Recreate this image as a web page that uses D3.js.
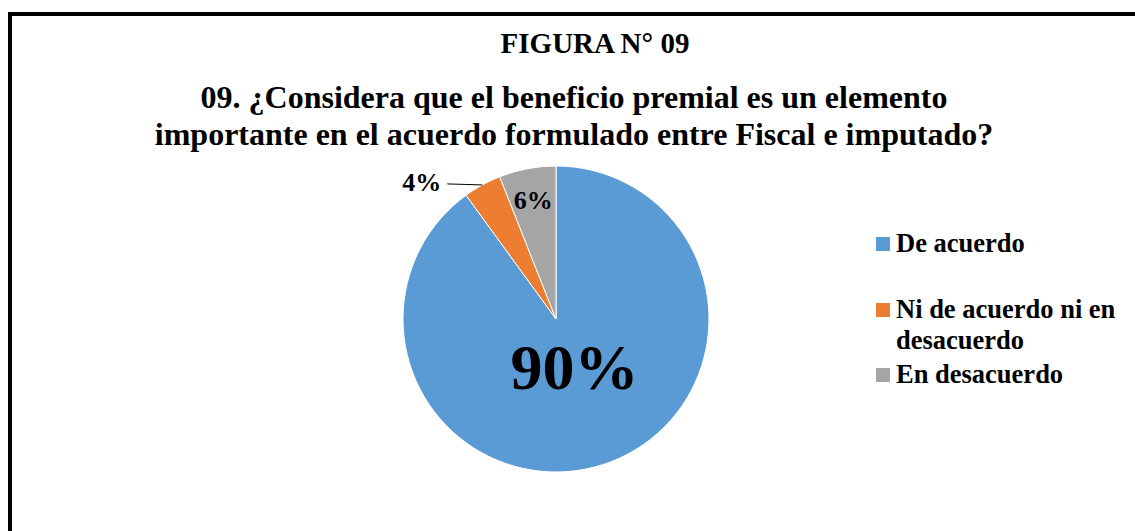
<!DOCTYPE html>
<html>
<head>
<meta charset="utf-8">
<script src="https://cdn.jsdelivr.net/npm/d3@7"></script>
<style>
    body { margin: 0; background: #fff; }
    svg text { font-family: "Liberation Serif", "Times New Roman", serif; font-weight: bold; fill: #000; }
</style>
</head>
<body>
<svg id="chart" width="1135" height="531"></svg>
<script>
var categories = ["De acuerdo", "Ni de acuerdo ni en desacuerdo", "En desacuerdo"];
var values = [90, 4, 6];
var labels = ["90%", "4%", "6%"];
var legendLines = [["De acuerdo"], ["Ni de acuerdo ni en", "desacuerdo"], ["En desacuerdo"]];
var titleLines = ["09. ¿Considera que el beneficio premial es un elemento",
                  "importante en el acuerdo formulado entre Fiscal e imputado?"];

var svg = d3.select("#chart");

// marco del gráfico (se corta a la derecha y abajo)
svg.append("rect")
    .attr("x", 10).attr("y", 14)
    .attr("width", 1200).attr("height", 600)
    .attr("fill", "none")
    .attr("stroke", "#000")
    .attr("stroke-width", 4);

svg.append("text")
    .attr("x", 595).attr("y", 53)
    .attr("text-anchor", "middle")
    .style("font-size", "29px")
    .text("FIGURA N° 09");

svg.selectAll(".title")
    .data(titleLines)
    .enter().append("text")
    .attr("class", "title")
    .attr("x", 574)
    .attr("y", function (d, i) { return 108 + i * 37; })
    .attr("text-anchor", "middle")
    .style("font-size", "32px")
    .text(function (d) { return d; });

var color = d3.scaleOrdinal()
    .domain(categories)
    .range(["#5B9BD5", "#ED7D31", "#A5A5A5"]);

var cx = 556, cy = 319, r = 153;

var pie = d3.pie().sort(null).value(function (d) { return d; });
var arcs = pie(values);
var arc = d3.arc().innerRadius(0).outerRadius(r);

var g = svg.append("g").attr("transform", "translate(" + cx + "," + cy + ")");

g.selectAll("path")
    .data(arcs)
    .enter().append("path")
    .attr("d", arc)
    .attr("fill", function (d, i) { return color(categories[i]); })
    .attr("stroke", "#fff")
    .attr("stroke-width", 1);

function mid(d) { return (d.startAngle + d.endAngle) / 2; }

// etiqueta grande dentro del sector azul
var a0 = arcs[0];
var p0 = d3.arc().innerRadius(r * 0.33).outerRadius(r * 0.33).centroid(a0);
g.append("text")
    .attr("x", p0[0] + 3).attr("y", p0[1] + 22)
    .attr("text-anchor", "middle")
    .style("font-size", "64px")
    .text(labels[0]);

// 4% fuera con línea guía
var a1 = arcs[1];
var m1 = mid(a1);
var e1 = [Math.sin(m1) * r, -Math.cos(m1) * r];
g.append("path")
    .attr("d", "M" + e1[0] + "," + e1[1] + "L" + (e1[0] - 35) + "," + (e1[1] - 1))
    .attr("stroke", "#000")
    .attr("stroke-width", 1)
    .attr("fill", "none");
g.append("text")
    .attr("x", e1[0] - 41).attr("y", e1[1] + 6)
    .attr("text-anchor", "end")
    .style("font-size", "26px")
    .text(labels[1]);

// 6% dentro del sector gris
var a2 = arcs[2];
var p2 = d3.arc().innerRadius(r * 0.79).outerRadius(r * 0.79).centroid(a2);
g.append("text")
    .attr("x", p2[0]).attr("y", p2[1] + 9)
    .attr("text-anchor", "middle")
    .style("font-size", "26px")
    .text(labels[2]);

// leyenda
var legendY = [252, 318, 383];
var leg = svg.selectAll(".legend")
    .data(categories)
    .enter().append("g")
    .attr("class", "legend")
    .attr("transform", function (d, i) { return "translate(876," + legendY[i] + ")"; });

leg.append("rect")
    .attr("x", 0).attr("y", -15)
    .attr("width", 14).attr("height", 14)
    .attr("fill", function (d) { return color(d); });

leg.each(function (d, i) {
    var t = d3.select(this).append("text")
        .attr("x", 20).attr("y", 0)
        .style("font-size", "26.5px");
    legendLines[i].forEach(function (line, j) {
        t.append("tspan").attr("x", 20).attr("dy", j === 0 ? 0 : 31).text(line);
    });
});
</script>
</body>
</html>
